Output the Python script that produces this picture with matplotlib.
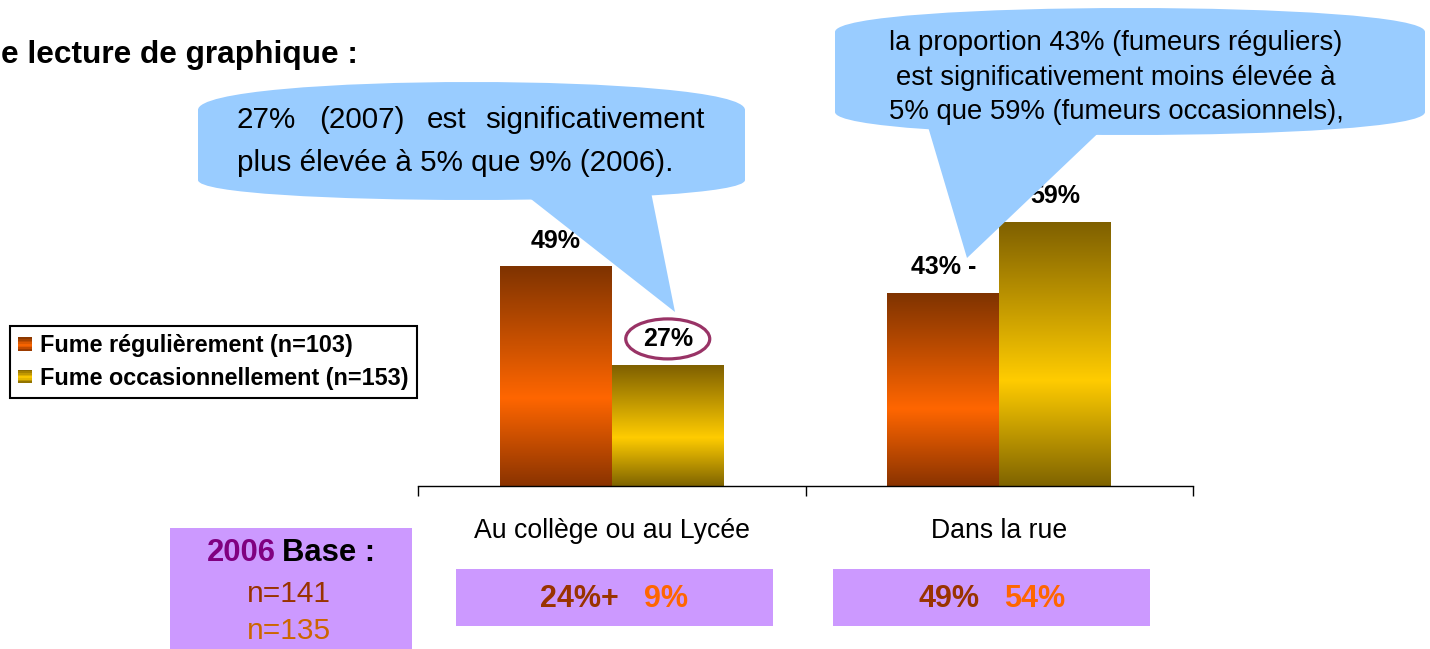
import numpy as np
import matplotlib
matplotlib.use('Agg')
import matplotlib.pyplot as plt
from matplotlib.patches import Rectangle, Ellipse, Polygon, PathPatch
from matplotlib.path import Path
from matplotlib.colors import LinearSegmentedColormap
from matplotlib.legend_handler import HandlerBase
from matplotlib.offsetbox import TextArea, HPacker, AnnotationBbox

plt.rcParams['font.family'] = ['Liberation Sans', 'DejaVu Sans']

# ---------------- data ----------------
categories = ['Au collège ou au Lycée', 'Dans la rue']
series_names = ['Fume régulièrement (n=103)', 'Fume occasionnellement (n=153)']
regular_2007 = [49, 43]
occasional_2007 = [27, 59]
regular_labels = ['49%', '43% -']
occasional_labels = ['27%', '59%']
regular_2006 = [24, 49]
occasional_2006 = [9, 54]
signif_2006 = ['+', '']
base_year = '2006'
base_n = [141, 135]
title_text = 'e lecture de graphique :'
note_left = ['27%', '(2007)', 'est', 'significativement']
note_left_2 = 'plus élevée à 5% que 9% (2006).'
note_right = ['la proportion 43% (fumeurs réguliers)',
              'est significativement moins élevée à',
              '5% que 59% (fumeurs occasionnels),']

# ---------------- figure ----------------
W, H = 1430, 649
fig = plt.figure(figsize=(W / 100, H / 100), dpi=100)
fig.patch.set_facecolor('white')

ax = fig.add_axes([418 / W, (H - 486) / H, 775 / W, 447 / H])
x = np.arange(len(categories))
width = 0.289

bars_r = ax.bar(x - width / 2, regular_2007, width, color='none', edgecolor='none')
bars_o = ax.bar(x + width / 2, occasional_2007, width, color='none', edgecolor='none')

cmap_r = LinearSegmentedColormap.from_list('r', [(0, '#8A3300'), (0.4, '#FF6600'), (1, '#7F3300')])
cmap_o = LinearSegmentedColormap.from_list('o', [(0, '#7F6400'), (0.4, '#FFCC00'), (1, '#7F6000')])
grad = np.linspace(0, 1, 256).reshape(-1, 1)
for bars, cm in ((bars_r, cmap_r), (bars_o, cmap_o)):
    for b in bars:
        ax.imshow(grad, extent=(b.get_x(), b.get_x() + b.get_width(), 0, b.get_height()),
                  origin='lower', aspect='auto', cmap=cm, zorder=2, interpolation='bilinear')

ax.set_xlim(-0.5, len(categories) - 0.5)
ax.set_ylim(0, 100)
ax.patch.set_alpha(0)
for s in ('top', 'left', 'right'):
    ax.spines[s].set_visible(False)
ax.spines['bottom'].set_linewidth(1.0)
ax.set_yticks([])
ax.set_xticks(np.arange(-0.5, len(categories)), [''] * (len(categories) + 1))
ax.set_xticks(x, categories, minor=True)
ax.tick_params(axis='x', which='major', length=7, width=1, direction='out')
ax.tick_params(axis='x', which='minor', length=0, pad=23, labelsize=19.2)

# data labels
for bars, labs in ((bars_r, regular_labels), (bars_o, occasional_labels)):
    for b, lab in zip(bars, labs):
        ax.annotate(lab, (b.get_x() + b.get_width() / 2, b.get_height()), xytext=(0, 19),
                    textcoords='offset points', ha='center', va='center',
                    fontsize=18, fontweight='bold', zorder=3)

# ellipse around highlighted value
px_per_unit = 447 / 100
hb = bars_o[0]
ax.add_patch(Ellipse((hb.get_x() + hb.get_width() / 2, hb.get_height() + 26.4 / px_per_unit),
                     84 / 387.5, 40 / px_per_unit, fill=False, edgecolor='#993366',
                     linewidth=2.3, zorder=4, clip_on=False))

# 2006 comparison boxes under categories
xt = ax.get_xaxis_transform()
box_shift = [0.006, -0.019]
for i in range(len(categories)):
    cx = i + box_shift[i]
    ax.add_patch(Rectangle((cx - 0.409, -0.313), 0.818, 0.1275, transform=xt,
                           facecolor='#CC99FF', edgecolor='none', clip_on=False, zorder=1))
    pack = HPacker(children=[
        TextArea(f'{regular_2006[i]}%{signif_2006[i]}',
                 textprops=dict(color='#993300', fontsize=22, fontweight='bold')),
        TextArea(f'{occasional_2006[i]}%',
                 textprops=dict(color='#FF6600', fontsize=22, fontweight='bold'))],
        sep=18, align='center', pad=0)
    ab = AnnotationBbox(pack, (cx, -0.252), xycoords=xt, frameon=False,
                        box_alignment=(0.5, 0.5), annotation_clip=False, zorder=2)
    ax.add_artist(ab)


# legend with gradient swatches
class GradientHandler(HandlerBase):
    def __init__(self, cmap):
        super().__init__()
        self.cmap = cmap

    def create_artists(self, legend, orig_handle, xdescent, ydescent, width, height, fontsize, trans):
        n = 8
        arts = []
        for k in range(n):
            arts.append(Rectangle((-xdescent, -ydescent + height * k / n), width, height / n,
                                  facecolor=self.cmap((k + 0.5) / n), edgecolor='none',
                                  transform=trans))
        return arts


leg = fig.legend([bars_r, bars_o], series_names,
                 handler_map={bars_r: GradientHandler(cmap_r), bars_o: GradientHandler(cmap_o)},
                 loc='upper left', bbox_to_anchor=(10 / W, 1 - 326 / H), borderaxespad=0,
                 frameon=True, fancybox=False, framealpha=1, edgecolor='black',
                 prop=dict(weight='bold', size=16.8), handlelength=0.6, handleheight=0.5,
                 handletextpad=0.35, borderpad=0.35, labelspacing=0.4)
leg.get_frame().set_linewidth(1.5)

# ---------------- overlay (pixel coordinates) ----------------
ov = fig.add_axes([0, 0, 1, 1], zorder=5)
ov.set_xlim(0, W)
ov.set_ylim(H, 0)
ov.axis('off')
ov.patch.set_alpha(0)


def bubble(x0, x1, ys_top, peak_top, ys_bot, peak_bot, color):
    ct = ys_top + (peak_top - ys_top) / 0.75
    cb = ys_bot + (peak_bot - ys_bot) / 0.75
    verts = [(x0, ys_bot),
             (x0, ys_top),
             (x0, ct), (x1, ct), (x1, ys_top),
             (x1, ys_bot),
             (x1, cb), (x0, cb), (x0, ys_bot),
             (x0, ys_bot)]
    codes = [Path.MOVETO,
             Path.LINETO,
             Path.CURVE4, Path.CURVE4, Path.CURVE4,
             Path.LINETO,
             Path.CURVE4, Path.CURVE4, Path.CURVE4,
             Path.CLOSEPOLY]
    ov.add_patch(PathPatch(Path(verts, codes), facecolor=color, edgecolor='none', zorder=1))


blue = '#99CCFF'
bubble(198, 745, 110, 82, 180, 200, blue)
ov.add_patch(Polygon([(522, 192), (651, 192), (675, 312)], closed=True,
                     facecolor=blue, edgecolor='none', zorder=1))
bubble(835, 1425, 32, 8, 112, 135, blue)
ov.add_patch(Polygon([(926, 120), (1112, 120), (967, 258)], closed=True,
                     facecolor=blue, edgecolor='none', zorder=1))

# left bubble text (justified first line)
fs_l = 21.3
ov.text(237, 120, note_left[0], ha='left', va='center', fontsize=fs_l, zorder=2)
ov.text(319, 120, note_left[1], ha='left', va='center', fontsize=fs_l, zorder=2)
ov.text(427, 120, note_left[2], ha='left', va='center', fontsize=fs_l, zorder=2)
ov.text(705, 120, note_left[3], ha='right', va='center', fontsize=fs_l, zorder=2)
ov.text(237, 163, note_left_2, ha='left', va='center', fontsize=fs_l, zorder=2)

# right bubble text
for yy, line in zip((43, 78, 112), note_right):
    ov.text(1116, yy, line, ha='center', va='center', fontsize=19.8, zorder=2)

# title fragment
ov.text(1, 55, title_text, ha='left', va='center', fontsize=22.8, fontweight='bold')

# 2006 base box
ov.add_patch(Rectangle((170, 528), 242, 121, facecolor='#CC99FF', edgecolor='none', zorder=1))
pack = HPacker(children=[
    TextArea(base_year, textprops=dict(color='#800080', fontsize=22.3, fontweight='bold')),
    TextArea('Base :', textprops=dict(color='black', fontsize=22.3, fontweight='bold'))],
    sep=5, align='center', pad=0)
ov.add_artist(AnnotationBbox(pack, (291, 553), xycoords='data', frameon=False,
                             box_alignment=(0.5, 0.5), zorder=2))
ov.text(289, 594, f'n={base_n[0]}', ha='center', va='center', fontsize=21.5, color='#993300', zorder=2)
ov.text(289, 631, f'n={base_n[1]}', ha='center', va='center', fontsize=21.5, color='#CC6600', zorder=2)

fig.savefig('out.png', dpi=100)
